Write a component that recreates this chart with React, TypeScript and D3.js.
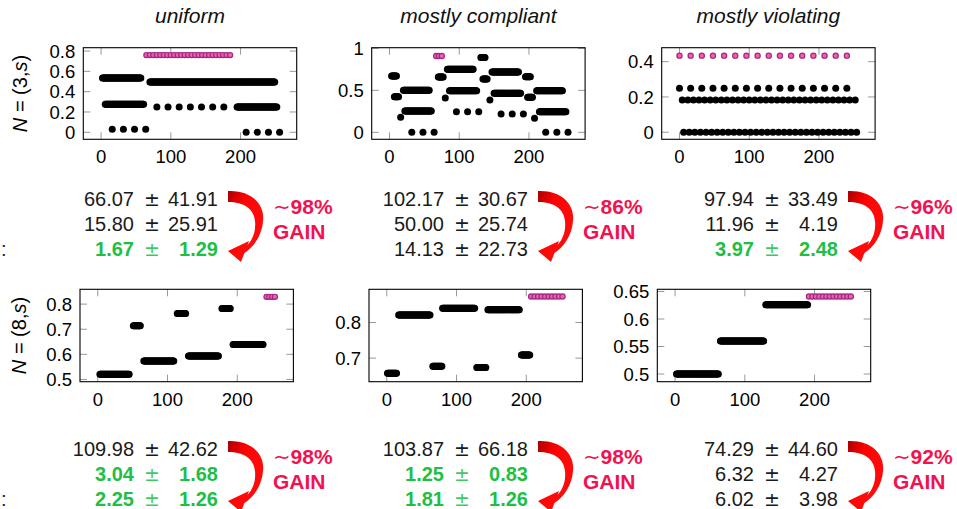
import React from 'react'
import * as d3 from 'd3'

// each run is [first s, last s, step, value]
const uniform3Runs = [[2, 57, 1, 0.535], [70, 249, 1, 0.495], [6, 61, 1, 0.277], [80, 176, 16, 0.25], [195, 252, 1, 0.25], [16, 64, 16, 0.03], [208, 256, 16, 0]]
const uniform3Hits = [[65, 187, 5, 0.76]]
const compliant3Runs = [
  [3, 10, 1, 0.67], [7, 13, 1, 0.425], [16, 16, 1, 0.18], [20, 57, 1, 0.5], [22, 60, 1, 0.254], [32, 64, 16, 0],
  [70, 77, 1, 0.66], [80, 80, 1, 0.41], [83, 120, 1, 0.75], [86, 125, 1, 0.496], [96, 128, 16, 0.246],
  [131, 137, 1, 0.89], [134, 140, 1, 0.635], [144, 144, 1, 0.385], [147, 185, 1, 0.72], [150, 188, 1, 0.464], [160, 192, 16, 0.218],
  [195, 202, 1, 0.663], [198, 205, 1, 0.417], [208, 208, 1, 0.167], [211, 248, 1, 0.496], [215, 253, 1, 0.246], [224, 256, 16, 0]
]
const compliant3Hits = [[67, 75, 4, 0.91]]
const violating3Runs = [[0, 240, 16, 0.249], [4, 252, 8, 0.183], [6, 254, 8, 0]]
const violating3Hits = [[0, 240, 16, 0.434]]

const uniform8Runs = [[3, 45, 1, 0.521], [51, 61, 1, 0.714], [66, 109, 1, 0.573], [114, 126, 1, 0.763], [130, 173, 1, 0.593], [178, 190, 1, 0.783], [194, 237, 1, 0.639]]
const uniform8Hits = [[242, 254, 4, 0.829]]
const compliant8Runs = [[1, 14, 1, 0.658], [17, 62, 1, 0.821], [66, 79, 1, 0.677], [80, 126, 1, 0.84], [129, 142, 1, 0.674], [145, 190, 1, 0.836], [193, 205, 1, 0.709]]
const compliant8Hits = [[207, 254, 5, 0.873]]
const violating8Runs = [[2, 62, 1, 0.5], [65, 127, 1, 0.56], [130, 190, 1, 0.626]]
const violating8Hits = [[192, 255, 5, 0.641]]

const titles = ['uniform', 'mostly compliant', 'mostly violating']
const xTicks = [0, 100, 200]
const yTicks3 = [[0, 0.2, 0.4, 0.6, 0.8], [0, 0.5, 1], [0, 0.2, 0.4]]
const yTicks8 = [[0.5, 0.6, 0.7, 0.8], [0.7, 0.8], [0.5, 0.55, 0.6, 0.65]]
const yDomains3 = [[-0.069, 0.833], [-0.083, 1.008], [-0.04, 0.479]]
const yDomains8 = [[0.491, 0.859], [0.634, 0.893], [0.486, 0.654]]

const means3 = [['66.07', '15.80', '1.67'], ['102.17', '50.00', '14.13'], ['97.94', '11.96', '3.97']]
const stds3 = [['41.91', '25.91', '1.29'], ['30.67', '25.74', '22.73'], ['33.49', '4.19', '2.48']]
const best3 = [[false, false, true], [false, false, false], [false, false, true]]
const gains3 = ['98', '86', '96']
const means8 = [['109.98', '3.04', '2.25'], ['103.87', '1.25', '1.81'], ['74.29', '6.32', '6.02']]
const stds8 = [['42.62', '1.68', '1.26'], ['66.18', '0.83', '1.26'], ['44.60', '4.27', '3.98']]
const best8 = [[false, true, true], [false, true, true], [false, false, false]]
const gains8 = ['98', '98', '92']

const FONT = "'Liberation Sans', Arial, sans-serif"
const BOX_W = 213.4
const GREEN = '#1fbf45'
const GAIN_RED = '#f2124f'
const ARROW = 'M0,0 C24,-1 37,14 35,30 C34,44 26,56 16.4,62 L13,71 L0,60 L21,50 L19.4,54.2 C25,48 28,40 27,30 C26,18 16,11 0,11 Z'

const expand = (runs: number[][]) =>
  runs.flatMap(([a, b, step, v]) => d3.range(a, b + 0.001, step).map(s => [s, v]))

function Panel({ left, top, h, runs, hits, yDomain, yTicks }: any) {
  const x = d3.scaleLinear().domain([-25.5, 280.5]).range([left, left + BOX_W])
  const y = d3.scaleLinear().domain(yDomain).range([top + h, top])
  const right = left + BOX_W, bottom = top + h
  const tl = 7
  return (
    <g>
      {xTicks.map(t => (
        <g key={'x' + t} stroke="#999" strokeWidth={1}>
          <line x1={x(t)} x2={x(t)} y1={top} y2={top + tl} />
          <line x1={x(t)} x2={x(t)} y1={bottom} y2={bottom - tl} />
        </g>
      ))}
      {yTicks.map((t: number) => (
        <g key={'y' + t} stroke="#999" strokeWidth={1}>
          <line x1={left} x2={left + tl} y1={y(t)} y2={y(t)} />
          <line x1={right} x2={right - tl} y1={y(t)} y2={y(t)} />
        </g>
      ))}
      {expand(runs).map(([s, v], i) => (
        <circle key={'r' + i} cx={x(s)} cy={y(v)} r={3.5} fill="#000" />
      ))}
      {expand(hits).map(([s, v], i) => (
        <circle key={'h' + i} cx={x(s)} cy={y(v)} r={2.6} fill="#f0649c" stroke="#a1258f" strokeWidth={1.2} />
      ))}
      <rect x={left} y={top} width={BOX_W} height={h} fill="none" stroke="#000" strokeWidth={1.1} />
      {xTicks.map(t => (
        <text key={'xl' + t} x={x(t)} y={bottom + 24} textAnchor="middle" fontSize={18.5}>{t}</text>
      ))}
      {yTicks.map((t: number) => (
        <text key={'yl' + t} x={left - 8} y={y(t) + 6.6} textAnchor="end" fontSize={18.5}>{String(t)}</text>
      ))}
    </g>
  )
}

function Stats({ R, top, means, stds, best, gain }: any) {
  return (
    <g>
      {means.map((m: string, i: number) => {
        const by = top + 15 + i * 25
        const fill = best[i] ? GREEN : '#1a1a1a'
        const fw = best[i] ? 'bold' : 'normal'
        return (
          <g key={i} fill={fill}>
            <text x={R - 84} y={by} textAnchor="end" fontWeight={fw} fontSize={20}>{m}</text>
            <text x={R - 66} y={by} textAnchor="middle" fontSize={19} fontFamily="'DejaVu Sans', sans-serif" opacity={best[i] ? 0.85 : 1}>±</text>
            <text x={R} y={by} textAnchor="end" fontWeight={fw} fontSize={20}>{stds[i]}</text>
          </g>
        )
      })}
      <path d={ARROW} transform={`translate(${R + 10},${top})`} fill="url(#arrowGrad)" />
      <text x={R + 55} y={top + 22.5} fill={GAIN_RED} fontWeight="bold" fontSize={21}>
        <tspan fontFamily="'DejaVu Sans', sans-serif" fontWeight="normal">∼</tspan>{gain}%
      </text>
      <text x={R + 55} y={top + 48} fill={GAIN_RED} fontWeight="bold" fontSize={21}>GAIN</text>
    </g>
  )
}

export default function App() {
  const lefts3 = [83.3, 371.7, 661.7]
  const lefts8 = [80, 369, 657.3]
  const runs3 = [uniform3Runs, compliant3Runs, violating3Runs]
  const hits3 = [uniform3Hits, compliant3Hits, violating3Hits]
  const runs8 = [uniform8Runs, compliant8Runs, violating8Runs]
  const hits8 = [uniform8Hits, compliant8Hits, violating8Hits]
  const Rs = [218, 528, 838]
  return (
    <svg width={957} height={509} style={{ position: 'absolute', left: 0, top: 0, background: '#fff' }}
      fontFamily={FONT}>
      <defs>
        <linearGradient id="arrowGrad" x1="0" y1="0" x2="0.6" y2="0.5">
          <stop offset="0" stopColor="#a80000" />
          <stop offset="0.55" stopColor="#ff0000" />
          <stop offset="1" stopColor="#ff0a0a" />
        </linearGradient>
      </defs>
      {titles.map((t, i) => (
        <text key={t} x={lefts3[i] + BOX_W / 2} y={23} textAnchor="middle" fontStyle="italic" fontSize={21} fill="#111">{t}</text>
      ))}
      <text transform="translate(27,93.5) rotate(-90)" textAnchor="middle" fontSize={20}>
        <tspan fontStyle="italic">N</tspan> = (3,<tspan fontStyle="italic">s</tspan>)
      </text>
      <text transform="translate(26,335.5) rotate(-90)" textAnchor="middle" fontSize={20}>
        <tspan fontStyle="italic">N</tspan> = (8,<tspan fontStyle="italic">s</tspan>)
      </text>
      {titles.map((t, i) => (
        <Panel key={'p3' + i} left={lefts3[i]} top={47.7} h={91.6} runs={runs3[i]} hits={hits3[i]}
          yDomain={yDomains3[i]} yTicks={yTicks3[i]} />
      ))}
      {titles.map((t, i) => (
        <Panel key={'p8' + i} left={lefts8[i]} top={289.3} h={92.4} runs={runs8[i]} hits={hits8[i]}
          yDomain={yDomains8[i]} yTicks={yTicks8[i]} />
      ))}
      {Rs.map((R, i) => (
        <Stats key={'s3' + i} R={R} top={191} means={means3[i]} stds={stds3[i]} best={best3[i]} gain={gains3[i]} />
      ))}
      {Rs.map((R, i) => (
        <Stats key={'s8' + i} R={R} top={441} means={means8[i]} stds={stds8[i]} best={best8[i]} gain={gains8[i]} />
      ))}
      <text x={1} y={256} fontSize={20} fill="#1a1a1a">:</text>
      <text x={1} y={506} fontSize={20} fill="#1a1a1a">:</text>
    </svg>
  )
}
